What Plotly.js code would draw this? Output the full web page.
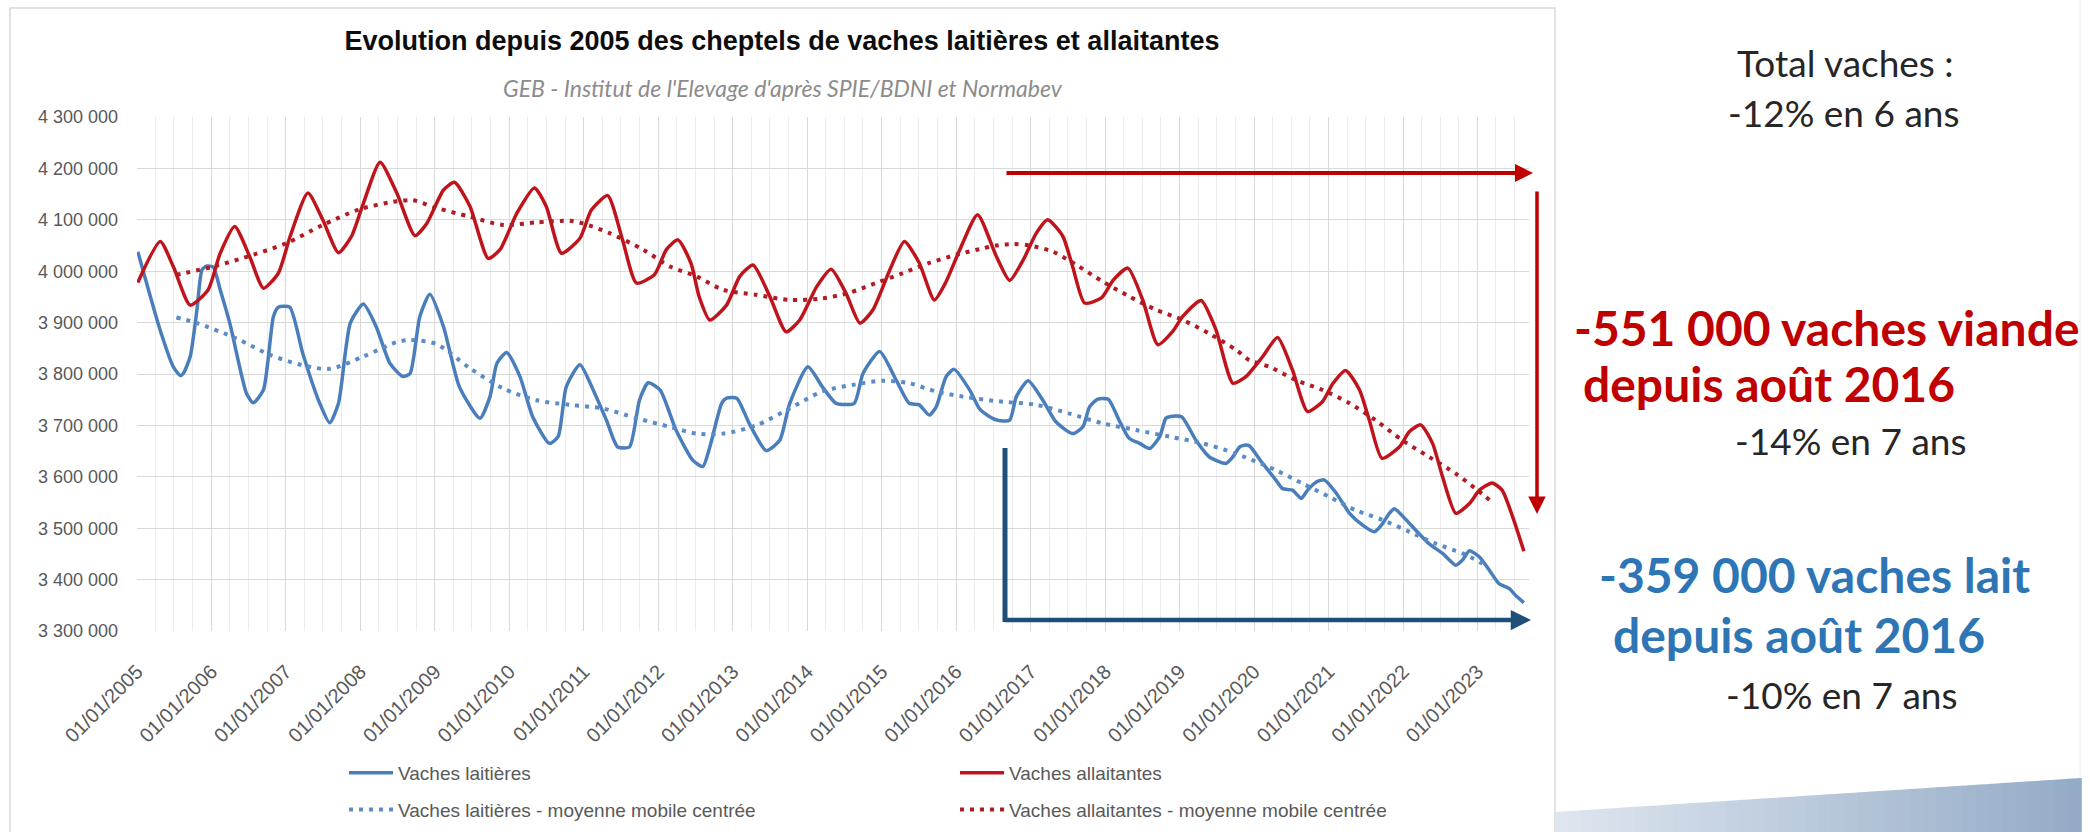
<!DOCTYPE html>
<html><head><meta charset="utf-8">
<script src="https://cdn.plot.ly/plotly-3.0.1.min.js"></script>
<style>html,body{margin:0;padding:0;background:#fff;}#chart{width:2090px;height:832px;}</style>
</head><body><div id="chart"></div>
<script>
// ---- Data ----
const datesLait = ['2005-01-05','2005-04-24','2005-06-28','2005-08-01','2005-08-16','2005-09-19','2005-10-22','2005-11-16','2005-12-10','2006-01-10','2006-02-13','2006-04-01','2006-06-22','2006-07-25','2006-09-13','2006-11-01','2006-11-25','2007-01-20','2007-03-25','2007-06-16','2007-08-04','2007-09-16','2007-11-13','2008-01-16','2008-03-19','2008-05-25','2008-07-28','2008-09-01','2008-10-19','2008-12-07','2009-02-12','2009-05-01','2009-08-10','2009-09-28','2009-11-01','2009-12-19','2010-02-22','2010-04-25','2010-07-16','2010-08-28','2010-10-07','2010-12-13','2011-02-16','2011-04-22','2011-06-16','2011-08-13','2011-10-01','2011-11-13','2012-01-10','2012-03-28','2012-06-19','2012-08-07','2012-09-10','2012-11-07','2012-12-01','2013-01-20','2013-03-22','2013-06-13','2013-08-19','2013-10-07','2014-01-04','2014-03-16','2014-05-22','2014-08-19','2014-10-01','2014-12-22','2015-03-13','2015-05-16','2015-07-04','2015-08-22','2015-09-25','2015-11-13','2015-12-22','2016-03-07','2016-04-25','2016-06-13','2016-07-22','2016-09-19','2016-10-22','2016-12-19','2017-03-01','2017-05-04','2017-07-25','2017-09-13','2017-10-16','2017-11-25','2018-01-16','2018-03-10','2018-04-28','2018-06-19','2018-08-07','2018-09-25','2018-10-25','2018-11-13','2019-01-10','2019-03-22','2019-05-25','2019-08-16','2019-09-19','2019-10-22','2019-11-22','2019-12-10','2020-02-12','2020-04-16','2020-05-19','2020-07-07','2020-08-19','2020-09-19','2020-11-01','2020-12-10','2021-02-07','2021-04-13','2021-06-16','2021-08-13','2021-09-22','2021-10-25','2021-11-19','2022-01-16','2022-03-04','2022-05-07','2022-07-13','2022-09-16','2022-10-19','2022-11-22','2023-01-10','2023-02-28','2023-04-16','2023-06-04','2023-07-07','2023-08-16'];
const valLait = [4038000,3886000,3814000,3797000,3801000,3834000,3925000,4003000,4010000,4008000,3964000,3899000,3762000,3744000,3769000,3912000,3930000,3930000,3840000,3743000,3705000,3743000,3899000,3936000,3892000,3821000,3795000,3801000,3912000,3955000,3892000,3775000,3714000,3756000,3821000,3842000,3795000,3717000,3665000,3678000,3775000,3818000,3769000,3710000,3658000,3658000,3749000,3783000,3769000,3691000,3632000,3620000,3658000,3743000,3753000,3753000,3704000,3651000,3671000,3743000,3814000,3775000,3743000,3743000,3801000,3844000,3788000,3743000,3740000,3720000,3736000,3795000,3809000,3769000,3732000,3717000,3710000,3710000,3756000,3787000,3749000,3707000,3684000,3697000,3736000,3751000,3751000,3710000,3675000,3665000,3655000,3678000,3714000,3717000,3717000,3671000,3639000,3626000,3639000,3658000,3662000,3660000,3626000,3594000,3577000,3574000,3558000,3574000,3590000,3594000,3568000,3529000,3506000,3493000,3509000,3529000,3538000,3516000,3496000,3470000,3451000,3428000,3438000,3456000,3444000,3418000,3392000,3383000,3369000,3355000];

const datesAllait = ['2005-01-05','2005-04-25','2005-06-28','2005-09-19','2005-12-16','2006-02-13','2006-04-25','2006-07-07','2006-09-13','2006-11-25','2007-01-22','2007-04-19','2007-07-01','2007-09-16','2007-11-19','2008-01-16','2008-04-07','2008-06-28','2008-09-25','2008-11-22','2009-02-12','2009-04-07','2009-06-22','2009-09-19','2009-11-16','2010-02-07','2010-05-04','2010-07-01','2010-09-13','2010-12-13','2011-02-07','2011-04-28','2011-07-10','2011-09-16','2011-12-13','2012-02-10','2012-04-07','2012-06-10','2012-07-20','2012-09-10','2012-12-01','2013-02-04','2013-04-10','2013-07-01','2013-09-19','2013-11-25','2014-02-16','2014-04-28','2014-07-10','2014-09-16','2014-11-19','2015-02-10','2015-04-22','2015-07-04','2015-09-16','2015-11-13','2016-01-19','2016-04-15','2016-07-16','2016-09-19','2016-11-25','2017-01-28','2017-03-25','2017-06-07','2017-07-25','2017-09-22','2017-12-13','2018-02-10','2018-04-22','2018-07-04','2018-09-16','2018-11-28','2019-01-16','2019-04-16','2019-06-28','2019-09-19','2019-11-22','2020-02-12','2020-04-25','2020-07-07','2020-09-19','2020-12-01','2021-01-22','2021-03-25','2021-06-01','2021-07-19','2021-09-19','2021-12-13','2022-02-01','2022-03-28','2022-05-25','2022-07-13','2022-09-16','2022-11-22','2023-01-10','2023-03-13','2023-05-01','2023-06-22','2023-08-16'];
const valAllait = [3978000,4058000,4009000,3934000,3964000,4035000,4087000,4029000,3967000,3996000,4068000,4152000,4100000,4036000,4068000,4132000,4212000,4152000,4069000,4093000,4158000,4173000,4126000,4025000,4042000,4113000,4162000,4126000,4035000,4064000,4119000,4147000,4061000,3977000,3993000,4042000,4061000,4015000,3950000,3905000,3934000,3990000,4012000,3951000,3882000,3905000,3970000,4004000,3957000,3899000,3925000,4003000,4058000,4016000,3944000,3980000,4042000,4110000,4029000,3982000,4022000,4074000,4100000,4068000,4009000,3938000,3948000,3983000,4006000,3944000,3857000,3883000,3912000,3943000,3886000,3782000,3795000,3834000,3871000,3808000,3727000,3746000,3782000,3807000,3769000,3710000,3636000,3658000,3688000,3701000,3665000,3600000,3529000,3548000,3574000,3588000,3574000,3522000,3455000];

const datesLaitMM = ['2005-07-13','2005-10-22','2006-05-04','2006-10-16','2007-03-25','2007-08-04','2008-01-16','2008-06-28','2008-09-01','2009-01-10','2009-06-22','2009-12-01','2010-05-13','2010-10-25','2011-04-04','2011-09-16','2012-02-28','2012-07-07','2012-11-13','2013-04-25','2013-10-07','2014-03-16','2014-08-28','2015-01-07','2015-05-16','2015-09-25','2016-02-04','2016-08-16','2017-01-28','2017-07-10','2017-12-19','2018-06-01','2018-11-13','2019-04-25','2019-10-04','2020-04-16','2020-08-25','2021-01-04','2021-05-13','2021-09-22','2022-02-01','2022-06-10','2022-10-19','2023-01-25'];
const valLaitMM = [3910000,3899000,3869000,3837000,3817000,3810000,3834000,3862000,3866000,3858000,3811000,3772000,3749000,3740000,3733000,3714000,3697000,3684000,3684000,3700000,3733000,3766000,3780000,3787000,3782000,3766000,3756000,3746000,3740000,3723000,3704000,3691000,3678000,3665000,3645000,3613000,3587000,3561000,3535000,3516000,3493000,3470000,3451000,3431000];

const datesAllaitMM = ['2005-07-13','2006-01-10','2006-07-25','2007-01-07','2007-07-01','2008-01-01','2008-06-28','2008-09-15','2009-01-10','2009-06-22','2009-12-01','2010-05-13','2010-10-25','2010-12-28','2011-05-07','2011-10-19','2012-02-28','2012-07-07','2012-11-13','2013-04-25','2013-10-07','2014-03-16','2014-07-25','2014-12-04','2015-04-13','2015-08-22','2016-01-01','2016-04-25','2016-07-15','2016-10-07','2016-12-25','2017-04-19','2017-08-13','2017-12-19','2018-04-28','2018-09-07','2019-01-16','2019-05-25','2019-10-04','2019-12-08','2020-03-16','2020-07-25','2020-12-01','2021-04-13','2021-08-19','2021-12-28','2022-05-07','2022-09-16','2022-12-22','2023-02-28'];
const valAllaitMM = [3993000,4009000,4032000,4055000,4090000,4121000,4136000,4138000,4123000,4106000,4090000,4095000,4098000,4093000,4074000,4042000,4009000,3990000,3964000,3954000,3944000,3947000,3958000,3977000,3996000,4016000,4032000,4043000,4050000,4053000,4050000,4038000,4012000,3980000,3951000,3925000,3905000,3879000,3847000,3827000,3814000,3788000,3769000,3743000,3710000,3671000,3639000,3606000,3577000,3555000];

const seriesNames = ['Vaches laitières','Vaches laitières - moyenne mobile centrée','Vaches allaitantes','Vaches allaitantes - moyenne mobile centrée'];
const chartTitle = 'Evolution depuis 2005 des cheptels de vaches laitières et allaitantes';
const chartSource = "GEB - Institut de l'Elevage d'après SPIE/BDNI et Normabev";
const sideTexts = ['Total vaches :','-12% en 6 ans','-551 000 vaches viande','depuis août 2016','-14% en 7 ans','-359 000 vaches lait','depuis août 2016','-10% en 7 ans'];

// ---- Geometry helpers (pixel -> paper) ----
const W = 2090, H = 832;
const L = 137, R = 1529, T = 117, B = 631;
const px = p => (p - L) / (R - L);
const py = p => (B - p) / (B - T);

const BLUE = '#4a7ebb', RED = '#c0141c', BLUE_MM = '#5b8cc8', RED_MM = '#b01c24';
const NAVY = '#1f4e79', DARKRED = '#c00000';
const tickFont = {family: 'Liberation Sans, Arial, sans-serif', size: 18, color: '#595959'};

const traces = [
  {x: datesLait, y: valLait, name: seriesNames[0], type: 'scatter', mode: 'lines',
   line: {color: BLUE, width: 3.5, shape: 'spline', smoothing: 0.6}, legend: 'legend', legendgroup: 'a'},
  {x: datesLaitMM, y: valLaitMM, name: seriesNames[1], type: 'scatter', mode: 'lines',
   line: {color: BLUE_MM, width: 4, dash: '4px,6px', shape: 'spline', smoothing: 0.8}, legend: 'legend', legendgroup: 'b'},
  {x: datesAllait, y: valAllait, name: seriesNames[2], type: 'scatter', mode: 'lines',
   line: {color: RED, width: 3.5, shape: 'spline', smoothing: 0.6}, legend: 'legend2', legendgroup: 'c'},
  {x: datesAllaitMM, y: valAllaitMM, name: seriesNames[3], type: 'scatter', mode: 'lines',
   line: {color: RED_MM, width: 4, dash: '4px,6px', shape: 'spline', smoothing: 0.8}, legend: 'legend2', legendgroup: 'd'}
];

const legendBase = {orientation: 'v', xanchor: 'left', yanchor: 'top', itemwidth: 44, tracegroupgap: 9,
  bgcolor: 'rgba(0,0,0,0)', font: {family: 'Liberation Sans, Arial, sans-serif', size: 19, color: '#595959'}};

const sideFont = (size, color, bold) => ({family: 'Lato, Calibri, sans-serif', size: size, color: color, weight: bold ? 'bold' : 'normal'});

const annotations = [
  {text: chartSource, xref: 'paper', yref: 'paper', x: px(783), y: py(88), xanchor: 'center', yanchor: 'middle', showarrow: false,
   font: {family: 'Lato, sans-serif', size: 23, color: '#8c8c8c', style: 'italic'}},
  {text: sideTexts[0], xref: 'paper', yref: 'paper', x: px(1845), y: py(63), xanchor: 'center', yanchor: 'middle', showarrow: false, font: sideFont(37, '#262626', false)},
  {text: sideTexts[1], xref: 'paper', yref: 'paper', x: px(1843), y: py(112), xanchor: 'center', yanchor: 'middle', showarrow: false, font: sideFont(37, '#262626', false)},
  {text: sideTexts[2], xref: 'paper', yref: 'paper', x: px(1572), y: py(327), xanchor: 'left', yanchor: 'middle', showarrow: false, font: sideFont(48, DARKRED, true)},
  {text: sideTexts[3], xref: 'paper', yref: 'paper', x: px(1581), y: py(384), xanchor: 'left', yanchor: 'middle', showarrow: false, font: sideFont(48, DARKRED, true)},
  {text: sideTexts[4], xref: 'paper', yref: 'paper', x: px(1733), y: py(440), xanchor: 'left', yanchor: 'middle', showarrow: false, font: sideFont(37, '#262626', false)},
  {text: sideTexts[5], xref: 'paper', yref: 'paper', x: px(1597), y: py(574), xanchor: 'left', yanchor: 'middle', showarrow: false, font: sideFont(48, '#2e75b6', true)},
  {text: sideTexts[6], xref: 'paper', yref: 'paper', x: px(1611), y: py(634), xanchor: 'left', yanchor: 'middle', showarrow: false, font: sideFont(48, '#2e75b6', true)},
  {text: sideTexts[7], xref: 'paper', yref: 'paper', x: px(1724), y: py(694), xanchor: 'left', yanchor: 'middle', showarrow: false, font: sideFont(37, '#262626', false)},
  // arrows
  {text: '', xref: 'paper', yref: 'paper', axref: 'paper', ayref: 'paper', x: px(1533), y: py(173), ax: px(1005), ay: py(173),
   showarrow: true, arrowhead: 2, arrowsize: 0.9, arrowwidth: 4, arrowcolor: DARKRED},
  {text: '', xref: 'paper', yref: 'paper', axref: 'paper', ayref: 'paper', x: px(1537), y: py(514), ax: px(1537), ay: py(190),
   showarrow: true, arrowhead: 2, arrowsize: 1, arrowwidth: 3.5, arrowcolor: DARKRED},
  {text: '', xref: 'paper', yref: 'paper', axref: 'paper', ayref: 'paper', x: px(1531), y: py(620), ax: px(1003), ay: py(620),
   showarrow: true, arrowhead: 2, arrowsize: 0.9, arrowwidth: 4.5, arrowcolor: NAVY}
];

// frame, slide edge, L-bracket and decorative swoosh bottom right
const shapes = [
  {type: 'rect', xref: 'paper', yref: 'paper', x0: px(10), x1: px(1555), y0: py(860), y1: py(8), line: {color: '#d9d9d9', width: 1.5}, fillcolor: 'rgba(0,0,0,0)', layer: 'below'},
  {type: 'line', xref: 'paper', yref: 'paper', x0: px(2080), x1: px(2080), y0: py(0), y1: py(832), line: {color: '#ececec', width: 1}},
  {type: 'line', xref: 'paper', yref: 'paper', x0: px(1005), x1: px(1005), y0: py(448), y1: py(622), line: {color: NAVY, width: 5}}
];
const c0 = [222, 230, 239], c1 = [148, 171, 199];
const sx0 = 1555, sx1 = 2081, n = 40;
for (let i = 0; i < n; i++) {
  const t = i / (n - 1);
  const col = `rgb(${Math.round(c0[0] + (c1[0] - c0[0]) * t)},${Math.round(c0[1] + (c1[1] - c0[1]) * t)},${Math.round(c0[2] + (c1[2] - c0[2]) * t)})`;
  const a = sx0 + (sx1 - sx0) * i / n, b = sx0 + (sx1 - sx0) * (i + 1) / n + 0.8;
  const ya = 812 - (812 - 778) * (a - sx0) / (sx1 - sx0);
  const yb = 812 - (812 - 778) * (b - sx0) / (sx1 - sx0);
  shapes.push({type: 'path', xref: 'paper', yref: 'paper',
    path: `M ${px(a)},${py(ya)} L ${px(b)},${py(yb)} L ${px(b)},${py(840)} L ${px(a)},${py(840)} Z`,
    fillcolor: col, line: {width: 0}});
}

const layout = {
  width: W, height: H,
  margin: {l: L, r: W - R, t: T, b: H - B, pad: 0, autoexpand: false},
  paper_bgcolor: '#ffffff', plot_bgcolor: '#ffffff',
  separators: ', ',
  title: {text: chartTitle, xref: 'container', yref: 'container', x: 782 / W, xanchor: 'center', y: 1 - 41 / H, yanchor: 'middle',
          font: {family: 'Liberation Sans, Arial, sans-serif', size: 27, color: '#0d0d0d', weight: 'bold'}},
  xaxis: {type: 'date', range: ['2005-01-01', '2023-09-10'], tickmode: 'linear', tick0: '2005-01-01', dtick: 'M12',
          tickformat: '%d/%m/%Y', tickangle: -45, ticks: '', showline: false, zeroline: false,
          showgrid: true, gridcolor: '#d9d9d9', gridwidth: 1,
          minor: {dtick: 'M3', tick0: '2005-01-01', showgrid: true, gridcolor: '#ededed', gridwidth: 1},
          tickfont: Object.assign({}, tickFont, {size: 20}), ticklabelstandoff: 24, automargin: false, fixedrange: true},
  yaxis: {range: [3300000, 4300000], tickmode: 'linear', tick0: 3300000, dtick: 100000, tickformat: ',.0f',
          ticks: '', showline: false, zeroline: false, showgrid: true, gridcolor: '#d9d9d9', gridwidth: 1,
          tickfont: tickFont, ticklabelstandoff: 18, automargin: false, fixedrange: true},
  showlegend: true,
  legend: Object.assign({}, legendBase, {x: px(344), y: py(754)}),
  legend2: Object.assign({}, legendBase, {x: px(955), y: py(754)}),
  annotations: annotations,
  shapes: shapes
};

Plotly.newPlot('chart', traces, layout, {displayModeBar: false, staticPlot: true});
</script>
</body></html>
